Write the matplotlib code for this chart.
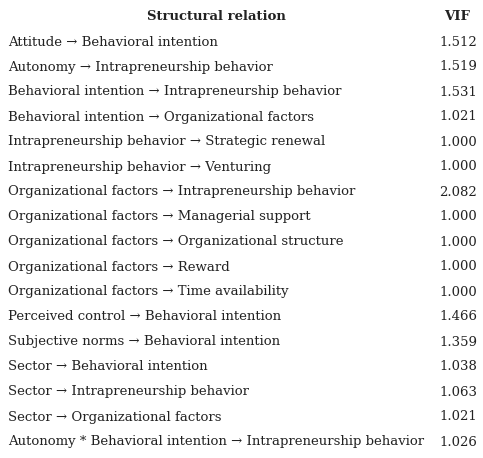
import matplotlib
matplotlib.use("Agg")
import matplotlib.pyplot as plt

plt.rcParams["font.family"] = ["DejaVu Serif"]

relations = [
    "Attitude → Behavioral intention",
    "Autonomy → Intrapreneurship behavior",
    "Behavioral intention → Intrapreneurship behavior",
    "Behavioral intention → Organizational factors",
    "Intrapreneurship behavior → Strategic renewal",
    "Intrapreneurship behavior → Venturing",
    "Organizational factors → Intrapreneurship behavior",
    "Organizational factors → Managerial support",
    "Organizational factors → Organizational structure",
    "Organizational factors → Reward",
    "Organizational factors → Time availability",
    "Perceived control → Behavioral intention",
    "Subjective norms → Behavioral intention",
    "Sector → Behavioral intention",
    "Sector → Intrapreneurship behavior",
    "Sector → Organizational factors",
    "Autonomy * Behavioral intention → Intrapreneurship behavior",
]
vif = [1.512, 1.519, 1.531, 1.021, 1.000, 1.000, 2.082, 1.000, 1.000,
       1.000, 1.000, 1.466, 1.359, 1.038, 1.063, 1.021, 1.026]

W, H = 483, 458
fig = plt.figure(figsize=(W / 100, H / 100), dpi=100)
fig.patch.set_facecolor("white")

def px(x, y):
    return x / W, 1 - y / H

color = "#222222"
fs = 9.5
fig.text(*px(216, 17), "Structural relation", ha="center", va="center",
         fontsize=fs, fontweight="bold", color=color)
fig.text(*px(457, 17), "VIF", ha="center", va="center",
         fontsize=fs, fontweight="bold", color=color)

for i, (rel, v) in enumerate(zip(relations, vif)):
    y = 42 + 25 * i
    fig.text(*px(8, y), rel, ha="left", va="center", fontsize=fs, color=color)
    fig.text(*px(477, y), f"{v:.3f}", ha="right", va="center", fontsize=fs, color=color)

fig.savefig("out.png", dpi=100)
